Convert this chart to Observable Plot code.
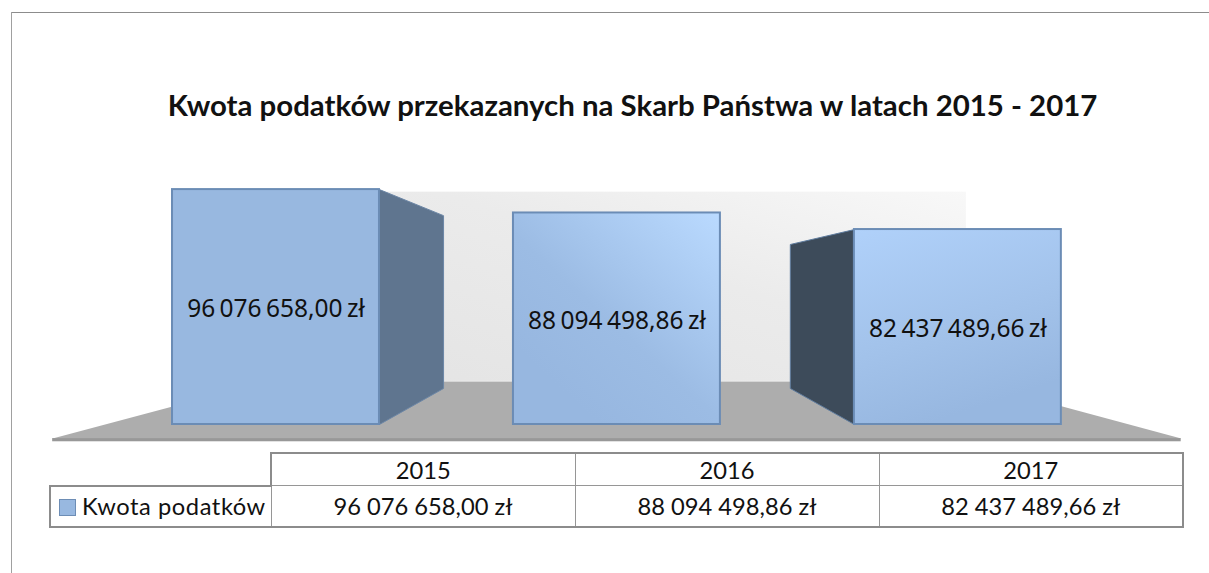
<!DOCTYPE html>
<html lang="pl">
<head>
<meta charset="utf-8">
<script src="https://cdn.jsdelivr.net/npm/d3@7"></script>
<script src="https://cdn.jsdelivr.net/npm/@observablehq/plot@0.6"></script>
<style>
  html, body { margin: 0; padding: 0; background: #fff; }
  #page { position: relative; width: 1209px; height: 573px; overflow: hidden; font-family: Lato, "Open Sans", sans-serif; color: #111; }
  #frameTop { position: absolute; left: 11px; top: 12px; right: 0; height: 1px; background: #8c8c8c; }
  #frameLeft { position: absolute; left: 11px; top: 12px; bottom: 0; width: 1px; background: #a0a0a0; }
  #title { position: absolute; left: 0; width: 1265px; top: 88px; text-align: center; font-size: 29.4px; line-height: 34px; font-weight: 700; color: #111; margin: 0; white-space: nowrap; }
  #chart { position: absolute; left: 0; top: 170px; }
  #chart svg { display: block; background: transparent; }
  #chart text { word-spacing: -2px; }
  table { position: absolute; left: 49px; top: 452px; border-collapse: collapse; table-layout: fixed; width: 1133px; font-size: 23.7px; }
  td { text-align: center; padding: 0; border: 1px solid #969696; white-space: nowrap; }
  tr.h td { height: 31px; }
  tr.v td { height: 40px; }
  td.blank { border: none; border-bottom: 2px solid #8c8c8c; }
  .outer-t { border-top: 2px solid #8c8c8c; }
  .outer-r { border-right: 2px solid #8c8c8c; }
  .outer-b { border-bottom: 2px solid #8c8c8c; }
  .outer-l { border-left: 2px solid #8c8c8c; }
  td.key { text-align: left; padding-left: 8px; box-sizing: border-box; border-top: 2px solid #8c8c8c; letter-spacing: 0.55px; }
  .swatch { display: inline-block; width: 15px; height: 15px; background: #98b8e0; border: 1px solid #6d8db5; vertical-align: -1px; margin-right: 6px; }
</style>
</head>
<body>
<div id="page">
  <div id="frameTop"></div><div id="frameLeft"></div>
  <h1 id="title"></h1>
  <div id="chart"></div>
  <table id="tbl"></table>
</div>
<script>
const titleText = "Kwota podatków przekazanych na Skarb Państwa w latach 2015 - 2017";
const seriesName = "Kwota podatków";
const years = [2015, 2016, 2017];
const amounts = [96076658.00, 88094498.86, 82437489.66];
const barFills = ["#98b8e0", "url(#grad2016)", "url(#grad2017)"];

const zl = d3.formatLocale({decimal: ",", thousands: " ", grouping: [3], currency: ["", " zł"]}).format("$,.2f");

// Scale settings of the drawn 3D scene
const baseValue = 15.9e6;        // axis floor of the 3D plot
const xDomain = [2014.192, 2017.738];
const yDomain = [8.73e6, 102.59e6];
const halfBar = 0.3035;
const depthX = 0.188;
const backValue = 30.6e6;        // back edge of the floor
const frontValue = 11.1e6;       // front edge of the floor
const stripValue = 10.0e6;       // lower edge of the floor slab
const wallTop = 95.2e6;
const floorLeft = [2014.345, 2014.972];
const floorRight = [2017.655, 2017.034];
const wallX = [2015.3, 2017.025];

const faceTopDrop = {2015: 8.9e6, 2017: 5.1e6};
const faceBottomRise = 12.3e6;

const rows = years.map((year, i) => ({year, amount: amounts[i], fill: barFills[i], label: zl(amounts[i])}));

const sideFace = (row, dir, drop) => {
  const edge = row.year + dir * halfBar;
  return [
    {x: edge, y: row.amount},
    {x: edge + dir * depthX, y: row.amount - drop},
    {x: edge + dir * depthX, y: baseValue + faceBottomRise},
    {x: edge, y: baseValue}
  ];
};
const closed = pts => [...pts, pts[0]];

const defs = () => {
  const ns = "http://www.w3.org/2000/svg";
  const d = document.createElementNS(ns, "defs");
  d.innerHTML = `
    <linearGradient id="gradWall" x1="0" y1="1" x2="1" y2="0">
      <stop offset="0" stop-color="#e4e4e4"/><stop offset="0.55" stop-color="#ebebeb"/><stop offset="1" stop-color="#f8f8f8"/>
    </linearGradient>
    <linearGradient id="grad2016" x1="1" y1="0" x2="0.25" y2="0.85">
      <stop offset="0" stop-color="#badaff"/><stop offset="0.65" stop-color="#9cbce4"/><stop offset="1" stop-color="#97b7e0"/>
    </linearGradient>
    <linearGradient id="grad2017" x1="0" y1="0" x2="0.35" y2="1">
      <stop offset="0" stop-color="#b0d1fa"/><stop offset="0.6" stop-color="#a2c2ea"/><stop offset="1" stop-color="#97b7e0"/>
    </linearGradient>`;
  return d;
};

const plot = Plot.plot({
  width: 1209,
  height: 275,
  margin: 0,
  x: {type: "linear", domain: xDomain, axis: null},
  y: {type: "linear", domain: yDomain, axis: null},
  color: {type: "identity"},
  marks: [
    defs,
    // back wall
    Plot.rect([{}], {x1: wallX[0], x2: wallX[1], y1: backValue, y2: wallTop, fill: "url(#gradWall)"}),
    // floor
    Plot.line(closed([
      {x: floorLeft[0], y: frontValue},
      {x: floorLeft[1], y: backValue},
      {x: floorRight[1], y: backValue},
      {x: floorRight[0], y: frontValue}
    ]), {x: "x", y: "y", fill: "#adadad", stroke: "none"}),
    Plot.rect([{}], {x1: floorLeft[0], x2: floorRight[0], y1: stripValue, y2: frontValue, fill: "#989898"}),
    // side faces
    Plot.line(closed(sideFace(rows[0], 1, faceTopDrop[2015])), {x: "x", y: "y", fill: "#5f758f", stroke: "#6d87a6", strokeWidth: 1}),
    Plot.line(closed(sideFace(rows[2], -1, faceTopDrop[2017])), {x: "x", y: "y", fill: "#3d4b5a", stroke: "#5f7c9e", strokeWidth: 1}),
    // front faces
    Plot.rect(rows, {
      x1: d => d.year - halfBar,
      x2: d => d.year + halfBar,
      y1: baseValue,
      y2: "amount",
      fill: "fill",
      stroke: "#6b8cb5",
      strokeWidth: 2
    }),
    // value labels
    Plot.text(rows, {
      x: "year",
      y: d => (d.amount + baseValue) / 2,
      text: "label",
      fontSize: 24.5,
      fill: "#111",
      dy: 2
    })
  ]
});
document.getElementById("chart").append(plot);
document.getElementById("title").textContent = titleText;

const tbl = document.getElementById("tbl");
const cg = document.createElement("colgroup");
[221, 304, 304, 304].forEach(w => { const c = document.createElement("col"); c.style.width = w + "px"; cg.append(c); });
tbl.append(cg);
const head = tbl.insertRow(); head.className = "h";
const blank = head.insertCell(); blank.className = "blank";
years.forEach((y, i) => {
  const c = head.insertCell(); c.textContent = y;
  c.className = "outer-t" + (i === 2 ? " outer-r" : "") + (i === 0 ? " outer-l" : "");
});
const body = tbl.insertRow(); body.className = "v";
const key = body.insertCell(); key.className = "key outer-l outer-b";
const sw = document.createElement("span"); sw.className = "swatch";
key.append(sw, seriesName);
rows.forEach((r, i) => {
  const c = body.insertCell(); c.textContent = r.label;
  c.className = "outer-b" + (i === 2 ? " outer-r" : "");
});
</script>
</body>
</html>
